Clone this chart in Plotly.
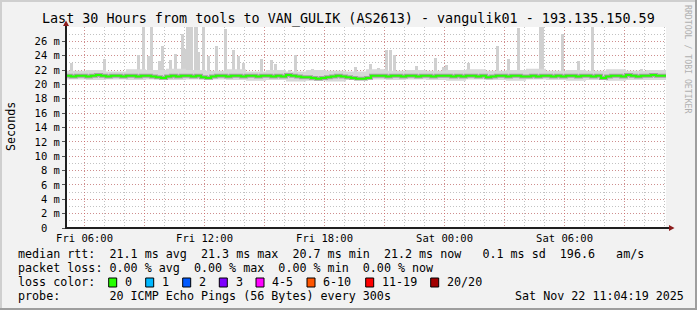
import plotly.graph_objects as go
import pandas as pd

# ---------------- data ----------------
t_start = "2025-11-21 05:04:19"
t_end = "2025-11-22 11:04:19"

# median rtt (ms), one value every 15 minutes from t_start
median_ms = [
    21.2, 21.1, 21.2, 21.2, 21.1, 21.2, 21.3, 21.2, 21.1, 21.2,
    21.2, 21.1, 21.2, 21.2, 21.1, 21.2, 21.2, 21.1, 21.0, 20.9,
    21.1, 21.2, 21.1, 21.2, 21.2, 21.1, 21.2, 21.0, 20.9, 21.1,
    21.2, 21.2, 21.1, 21.2, 21.2, 21.1, 21.2, 21.2, 21.1, 21.2,
    21.2, 21.1, 21.2, 21.1, 21.3, 21.2, 21.1, 21.0, 21.0, 20.9,
    20.8, 20.9, 21.0, 21.1, 21.2, 21.1, 21.0, 20.9, 20.8, 20.8,
    20.9, 21.2, 21.2, 21.2, 21.1, 21.2, 21.2, 21.1, 21.2, 21.2,
    21.1, 21.2, 21.2, 21.1, 21.2, 21.2, 21.2, 21.1, 21.2, 21.1,
    21.2, 21.2, 21.1, 21.2, 21.0, 21.1, 21.2, 21.2, 21.1, 21.2,
    21.2, 21.1, 21.1, 21.2, 21.1, 21.2, 21.2, 21.1, 21.2, 21.1,
    21.2, 21.2, 21.1, 21.2, 21.2, 21.1, 21.2, 20.9, 21.1, 21.2,
    21.2, 21.1, 21.3, 21.2, 21.1, 21.2, 21.2, 21.3, 21.2, 21.2, 21.2,
]

# smoke band (typical ping spread), hourly from t_start
smoke_hi = [21.9, 22.0, 21.8, 22.1, 22.0, 22.2, 22.0, 21.9, 22.1, 21.8,
            22.0, 21.8, 22.0, 21.9, 21.8, 22.1, 21.9, 22.0, 21.9, 22.0,
            22.1, 21.9, 22.0, 22.2, 21.9, 22.0, 21.9, 22.1, 21.9, 22.0, 21.9]
smoke_lo = [20.7, 20.6, 20.7, 20.6, 20.7, 20.6, 20.7, 20.7, 20.6, 20.5,
            20.6, 20.4, 20.5, 20.4, 20.6, 20.7, 20.6, 20.7, 20.6, 20.5,
            20.7, 20.6, 20.5, 20.7, 20.6, 20.5, 20.6, 20.5, 20.6, 20.6, 20.7]

# outlier pings (max rtt spikes, ms)
spike_times = [
    "2025-11-21 05:22", "2025-11-21 06:40", "2025-11-21 07:01", "2025-11-21 08:43",
    "2025-11-21 08:58", "2025-11-21 09:13", "2025-11-21 09:22", "2025-11-21 09:46",
    "2025-11-21 09:55", "2025-11-21 10:19", "2025-11-21 10:34", "2025-11-21 10:55",
    "2025-11-21 11:04", "2025-11-21 11:10", "2025-11-21 11:16", "2025-11-21 11:22",
    "2025-11-21 11:34", "2025-11-21 11:37", "2025-11-21 11:43", "2025-11-21 11:58",
    "2025-11-21 12:13", "2025-11-21 12:37", "2025-11-21 13:04", "2025-11-21 13:28",
    "2025-11-21 13:43", "2025-11-21 13:58", "2025-11-21 14:52", "2025-11-21 15:22",
    "2025-11-21 15:34", "2025-11-21 16:16", "2025-11-21 16:34", "2025-11-21 17:25",
    "2025-11-21 19:34", "2025-11-21 20:19", "2025-11-21 20:43", "2025-11-21 21:07",
    "2025-11-21 21:19", "2025-11-21 21:31", "2025-11-21 22:37", "2025-11-21 23:34",
    "2025-11-21 23:58", "2025-11-22 00:07", "2025-11-22 01:13", "2025-11-22 02:40",
    "2025-11-22 03:13", "2025-11-22 03:43", "2025-11-22 04:49", "2025-11-22 04:55",
    "2025-11-22 05:55", "2025-11-22 06:43", "2025-11-22 07:25", "2025-11-22 09:52",
]
spike_ms = [
    23.0, 21.9, 23.6, 24.1,
    28.5, 23.9, 28.5, 23.3,
    25.3, 23.4, 24.3, 27.0,
    25.0, 28.5, 28.5, 28.5,
    28.5, 28.5, 24.5, 28.5,
    24.0, 25.3, 27.7, 24.8,
    23.9, 23.0, 23.5, 23.4,
    22.8, 22.0, 24.1, 22.2,
    22.4, 22.9, 22.3, 24.8,
    24.8, 24.1, 22.6, 23.7,
    22.4, 22.7, 23.0, 25.3,
    23.5, 27.8, 28.5, 28.5,
    27.0, 23.2, 28.5, 22.1,
]

y_ticks = [0, 2, 4, 6, 8, 10, 12, 14, 16, 18, 20, 22, 24, 26]
y_labels = ["0&nbsp;&nbsp;"] + [f"{v} m" for v in y_ticks[1:]]
x_ticks = ["2025-11-21 06:00", "2025-11-21 09:00", "2025-11-21 12:00", "2025-11-21 15:00",
           "2025-11-21 18:00", "2025-11-21 21:00", "2025-11-22 00:00", "2025-11-22 03:00",
           "2025-11-22 06:00", "2025-11-22 09:00"]
x_labels = ["Fri 06:00", "", "Fri 12:00", "", "Fri 18:00", "", "Sat 00:00", "", "Sat 06:00", ""]

title_text = "Last 30 Hours from tools to VAN_GULIK (AS2613) - vangulik01 - 193.135.150.59"
legend_lines = [
    "median rtt:  21.1 ms avg  21.3 ms max  20.7 ms min  21.2 ms now   0.1 ms sd  196.6   am/s",
    "packet loss: 0.00 % avg  0.00 % max  0.00 % min  0.00 % now",
    "loss color:",
    "probe:       20 ICMP Echo Pings (56 Bytes) every 300s",
]
loss_labels = ["0", "1", "2", "3", "4-5", "6-10", "11-19", "20/20"]
loss_colors = ["#26ff00", "#00b8ff", "#0059ff", "#7e00ff", "#ff00ff", "#ff5500", "#ff0000", "#a10000"]
stamp = "Sat Nov 22 11:04:19 2025"

# ---------------- layout geometry (pixels) ----------------
W, H = 697, 310
L, R, T, B = 66, 666, 27, 228
FONT = "DejaVu Sans Mono"


def px(x):
    return (x - L) / (R - L)


def py(y):
    return (B - y) / (B - T)


med_t = pd.date_range(t_start, periods=len(median_ms), freq="15min")
smoke_t = pd.date_range(t_start, periods=len(smoke_hi), freq="60min")

fig = go.Figure()

# smoke band
fig.add_trace(go.Scatter(x=smoke_t, y=smoke_lo, mode="lines", line=dict(width=0, shape="hv"),
                         hoverinfo="skip", showlegend=False))
fig.add_trace(go.Scatter(x=smoke_t, y=smoke_hi, mode="lines", line=dict(width=0, shape="hv"),
                         fill="tonexty", fillcolor="#d8d8d8", hoverinfo="skip", showlegend=False))
# spikes
fig.add_trace(go.Bar(x=pd.to_datetime(spike_times), y=[v - 21.0 for v in spike_ms], base=21.0,
                     width=330000, marker=dict(color="#d0d0d0", line=dict(width=0)),
                     hoverinfo="skip", showlegend=False))
# darker smoke near median
fig.add_trace(go.Scatter(x=med_t, y=median_ms, mode="lines",
                         line=dict(color="rgba(100,100,100,0.45)", width=4, shape="hv"),
                         hoverinfo="skip", showlegend=False))
# median line
fig.add_trace(go.Scatter(x=med_t, y=median_ms, mode="lines",
                         line=dict(color=loss_colors[0], width=2, shape="hv"),
                         hoverinfo="skip", showlegend=False))

shapes = []
annotations = []

# 3D frame
shapes.append(dict(type="rect", xref="paper", yref="paper", x0=px(0), x1=px(W), y0=py(0), y1=py(2),
                   fillcolor="#cfcfcf", line=dict(width=0), layer="above"))
shapes.append(dict(type="rect", xref="paper", yref="paper", x0=px(0), x1=px(2), y0=py(0), y1=py(H),
                   fillcolor="#cfcfcf", line=dict(width=0), layer="above"))
shapes.append(dict(type="rect", xref="paper", yref="paper", x0=px(0), x1=px(W), y0=py(H - 2), y1=py(H),
                   fillcolor="#9e9e9e", line=dict(width=0), layer="above"))
shapes.append(dict(type="rect", xref="paper", yref="paper", x0=px(W - 2), x1=px(W), y0=py(0), y1=py(H),
                   fillcolor="#9e9e9e", line=dict(width=0), layer="above"))

# axes with arrows
axis_col = "#1f1f1f"
arrow_col = "#8b1c1c"
shapes.append(dict(type="line", xref="paper", yref="paper", x0=px(L - 1), x1=px(670), y0=py(228), y1=py(228),
                   line=dict(color=axis_col, width=2), layer="above"))
shapes.append(dict(type="line", xref="paper", yref="paper", x0=px(66), x1=px(66), y0=py(229), y1=py(24),
                   line=dict(color=axis_col, width=2), layer="above"))


def path(points):
    s = "M " + " L ".join(f"{px(a)},{py(b)}" for a, b in points) + " Z"
    return s


shapes.append(dict(type="path", xref="paper", yref="paper",
                   path=path([(66, 20.5), (63, 26), (69, 26)]),
                   fillcolor=arrow_col, line=dict(width=0), layer="above"))
shapes.append(dict(type="path", xref="paper", yref="paper",
                   path=path([(674.5, 228), (669, 225), (669, 231)]),
                   fillcolor=arrow_col, line=dict(width=0), layer="above"))

# title
annotations.append(dict(text=title_text, xref="paper", yref="paper", x=px(348), y=py(19),
                        xanchor="center", yanchor="middle", showarrow=False,
                        font=dict(family=FONT, size=13.4, color="black")))
# y axis title
annotations.append(dict(text="Seconds", xref="paper", yref="paper", x=px(11), y=py(127),
                        xanchor="center", yanchor="middle", textangle=-90, showarrow=False,
                        font=dict(family=FONT, size=11.7, color="black")))
# rrdtool watermark
annotations.append(dict(text="RRDTOOL / TOBI OETIKER", xref="paper", yref="paper", x=px(688), y=py(59),
                        xanchor="center", yanchor="middle", textangle=90, showarrow=False,
                        font=dict(family=FONT, size=8.2, color="#b0b0b0")))
# legend text lines
for txt, yy in zip(legend_lines, [254, 268, 282, 296]):
    annotations.append(dict(text=txt.replace(" ", "&nbsp;"), xref="paper", yref="paper", x=px(16), y=py(yy),
                            xanchor="left", yanchor="middle", showarrow=False,
                            font=dict(family=FONT, size=11.7, color="black")))
annotations.append(dict(text=stamp.replace(" ", "&nbsp;"), xref="paper", yref="paper", x=px(513), y=py(296),
                        xanchor="left", yanchor="middle", showarrow=False,
                        font=dict(family=FONT, size=11.7, color="black")))
# loss colour boxes
box_left = [108.7, 145.7, 182.7, 219.3, 256, 307, 365.7, 430.7]
for bx, lab, col in zip(box_left, loss_labels, loss_colors):
    shapes.append(dict(type="rect", xref="paper", yref="paper", x0=px(bx), x1=px(bx + 8),
                       y0=py(278), y1=py(287), fillcolor=col, line=dict(color="black", width=1),
                       layer="above"))
    annotations.append(dict(text=lab, xref="paper", yref="paper", x=px(bx + 14.3), y=py(282),
                            xanchor="left", yanchor="middle", showarrow=False,
                            font=dict(family=FONT, size=11.7, color="black")))

grid_major = "rgba(222,79,79,0.45)"
grid_minor = "rgba(143,143,143,0.55)"

fig.update_layout(
    template="none",
    width=W, height=H,
    margin=dict(l=L, r=W - R, t=T, b=H - B, pad=0),
    paper_bgcolor="#f2f2f2",
    plot_bgcolor="#ffffff",
    showlegend=False,
    bargap=0,
    shapes=shapes,
    annotations=annotations,
    xaxis=dict(
        type="date", range=[t_start, t_end], automargin=False,
        tickvals=x_ticks, ticktext=x_labels,
        showgrid=True, gridcolor=grid_major, griddash="1px,2px", gridwidth=1,
        ticks="", showline=False, zeroline=False, ticklabelstandoff=2,
        tickfont=dict(family=FONT, size=10.5, color="black"),
        minor=dict(dtick=3600000, tick0="2025-11-21 06:00", showgrid=True,
                   gridcolor=grid_minor, griddash="1px,2px", gridwidth=1, ticks=""),
    ),
    yaxis=dict(
        range=[0, 28], automargin=False,
        tickvals=y_ticks, ticktext=y_labels,
        showgrid=True, gridcolor=grid_major, griddash="1px,2px", gridwidth=1,
        ticks="outside", ticklen=3, tickcolor="#555555", tickwidth=1,
        showline=False, zeroline=False,
        tickfont=dict(family=FONT, size=10.5, color="black"),
        minor=dict(dtick=1, tick0=0, showgrid=True,
                   gridcolor=grid_minor, griddash="1px,2px", gridwidth=1, ticks=""),
    ),
)

fig.write_html("out.html")
